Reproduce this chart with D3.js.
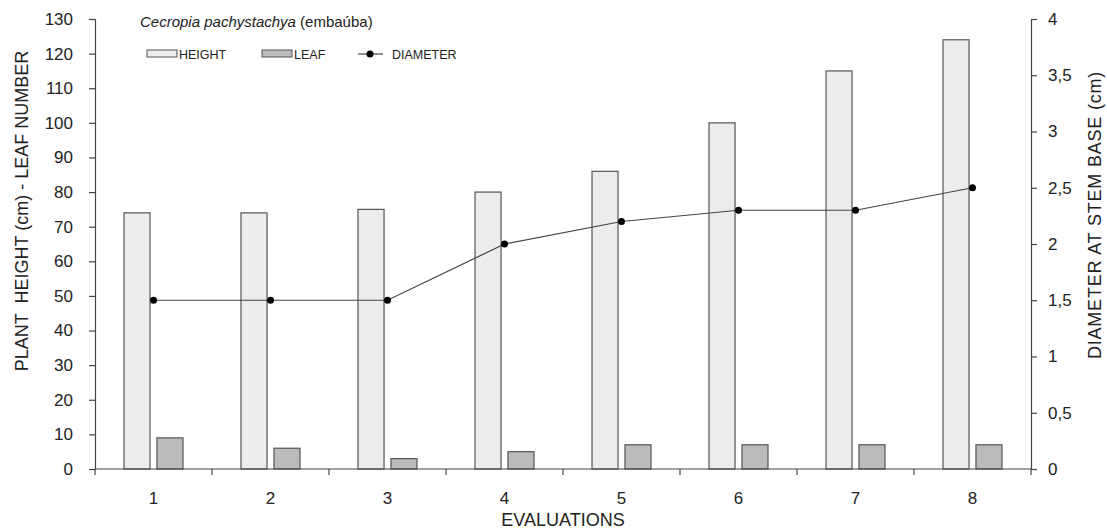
<!DOCTYPE html>
<html>
<head>
<meta charset="utf-8">
<script src="https://cdn.jsdelivr.net/npm/d3@7"></script>
<style>
  body { margin: 0; background: #fff; overflow: hidden; }
  svg { display: block; }
  text { font-family: "Liberation Sans", Arial, sans-serif; fill: #222; }
</style>
</head>
<body>
<svg width="1107" height="532"></svg>
<script>
// data
const evaluations = ["1", "2", "3", "4", "5", "6", "7", "8"];
const heightValues = [74, 74, 75, 80, 86, 100, 115, 124];
const leafValues = [9, 6, 3, 5, 7, 7, 7, 7];
const diameterValues = [1.5, 1.5, 1.5, 2.0, 2.2, 2.3, 2.3, 2.5];
const leftTicks = d3.range(0, 131, 10);
const rightTicks = [0, 0.5, 1, 1.5, 2, 2.5, 3, 3.5, 4];

const svg = d3.select("svg");
const margin = { top: 19, right: 76, bottom: 63, left: 95 };
const width = +svg.attr("width");
const height = +svg.attr("height");
const innerWidth = width - margin.left - margin.right;
const innerHeight = height - margin.top - margin.bottom;

const g = svg.append("g")
  .attr("transform", `translate(${margin.left},${margin.top})`);

// scales
const xScale = d3.scaleBand().domain(evaluations).range([0, innerWidth]);
const subScale = d3.scaleBand()
  .domain(["height", "leaf"])
  .range([0, xScale.bandwidth()])
  .paddingInner(0.21)
  .paddingOuter(0.88);
const yLeft = d3.scaleLinear().domain([0, 130]).range([innerHeight, 0]);
const yRight = d3.scaleLinear().domain([0, 4]).range([innerHeight, 0]);

const comma = (v) => String(v).replace(".", ",");

// bars
const rows = evaluations.map((e, i) => ({
  e, height: heightValues[i], leaf: leafValues[i], diameter: diameterValues[i]
}));

g.selectAll("rect.h")
  .data(rows)
  .enter().append("rect")
  .attr("class", "h")
  .attr("x", (d) => xScale(d.e) + subScale("height"))
  .attr("y", (d) => yLeft(d.height))
  .attr("width", subScale.bandwidth())
  .attr("height", (d) => innerHeight - yLeft(d.height))
  .attr("fill", "#ebecec")
  .attr("stroke", "#555")
  .attr("stroke-width", 1.2);

g.selectAll("rect.l")
  .data(rows)
  .enter().append("rect")
  .attr("class", "l")
  .attr("x", (d) => xScale(d.e) + subScale("leaf"))
  .attr("y", (d) => yLeft(d.leaf))
  .attr("width", subScale.bandwidth())
  .attr("height", (d) => innerHeight - yLeft(d.leaf))
  .attr("fill", "#bcbaba")
  .attr("stroke", "#555")
  .attr("stroke-width", 1.2);

// diameter line
const cx = (d) => xScale(d.e) + xScale.bandwidth() / 2;
g.append("path")
  .datum(rows)
  .attr("fill", "none")
  .attr("stroke", "#444")
  .attr("stroke-width", 1.2)
  .attr("d", d3.line().x(cx).y((d) => yRight(d.diameter)));

g.selectAll("circle.d")
  .data(rows)
  .enter().append("circle")
  .attr("class", "d")
  .attr("cx", cx)
  .attr("cy", (d) => yRight(d.diameter))
  .attr("r", 3.5)
  .attr("fill", "#000");

// axes
const styleAxis = (sel) => {
  sel.selectAll(".domain, line").attr("stroke", "#444").attr("stroke-width", 1.2);
  sel.selectAll("text").style("font-size", "17px").attr("fill", "#222");
};

g.append("g")
  .call(d3.axisLeft(yLeft).tickValues(leftTicks).tickSizeOuter(0).tickSize(6).tickPadding(16))
  .call(styleAxis);

g.append("g")
  .attr("transform", `translate(${innerWidth},0)`)
  .call(d3.axisRight(yRight).tickValues(rightTicks).tickFormat(comma).tickSizeOuter(0).tickSize(6).tickPadding(11))
  .call(styleAxis);

// x axis: ticks at band boundaries, labels at band centres
const xAxisG = g.append("g").attr("transform", `translate(0,${innerHeight})`);
xAxisG.append("line")
  .attr("x1", 0).attr("x2", innerWidth)
  .attr("stroke", "#444").attr("stroke-width", 1.2);
xAxisG.selectAll("line.t")
  .data(evaluations.concat(["end"]))
  .enter().append("line")
  .attr("class", "t")
  .attr("x1", (d, i) => i * xScale.step())
  .attr("x2", (d, i) => i * xScale.step())
  .attr("y1", 0).attr("y2", 6)
  .attr("stroke", "#444").attr("stroke-width", 1.2);
xAxisG.selectAll("text.lbl")
  .data(evaluations)
  .enter().append("text")
  .attr("class", "lbl")
  .attr("x", (d) => xScale(d) + xScale.bandwidth() / 2)
  .attr("y", 35)
  .attr("text-anchor", "middle")
  .style("font-size", "17px")
  .text((d) => d);

// axis titles
g.append("text")
  .attr("x", innerWidth / 2)
  .attr("y", innerHeight + 57)
  .attr("text-anchor", "middle")
  .style("font-size", "18px")
  .text("EVALUATIONS");

svg.append("text")
  .attr("transform", "translate(28,211) rotate(-90)")
  .attr("text-anchor", "middle")
  .style("font-size", "18px")
  .attr("xml:space", "preserve")
  .text("PLANT  HEIGHT (cm) - LEAF NUMBER");

svg.append("text")
  .attr("transform", "translate(1101,215) rotate(-90)")
  .attr("text-anchor", "middle")
  .style("font-size", "18px")
  .style("letter-spacing", "0.8px")
  .text("DIAMETER AT STEM BASE (cm)");

// title
const title = svg.append("text")
  .attr("x", 140).attr("y", 27)
  .style("font-size", "15px");
title.append("tspan").style("font-style", "italic").text("Cecropia pachystachya");
title.append("tspan").text(" (embaúba)");

// legend
const legend = svg.append("g").attr("transform", "translate(147,54)");
legend.append("rect")
  .attr("x", 0).attr("y", -4).attr("width", 30).attr("height", 7)
  .attr("fill", "#ebecec").attr("stroke", "#555");
legend.append("text").attr("x", 32).attr("y", 5).style("font-size", "12.5px").text("HEIGHT");
legend.append("rect")
  .attr("x", 115).attr("y", -4).attr("width", 30).attr("height", 7)
  .attr("fill", "#bcbaba").attr("stroke", "#555");
legend.append("text").attr("x", 147).attr("y", 5).style("font-size", "12.5px").text("LEAF");
legend.append("line")
  .attr("x1", 211).attr("x2", 236).attr("y1", 0).attr("y2", 0)
  .attr("stroke", "#444").attr("stroke-width", 1.2);
legend.append("circle").attr("cx", 223).attr("cy", 0).attr("r", 3.5).attr("fill", "#000");
legend.append("text").attr("x", 245).attr("y", 5).style("font-size", "12.5px").text("DIAMETER");
</script>
</body>
</html>
